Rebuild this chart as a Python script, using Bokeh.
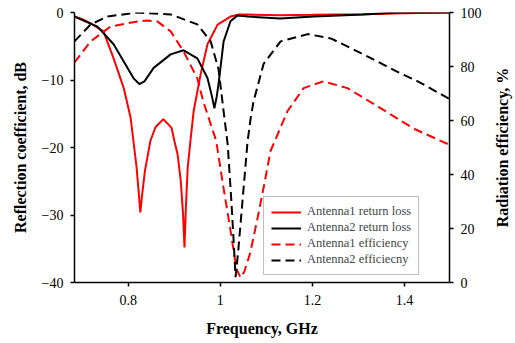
import math
from bokeh.plotting import figure
from bokeh.models import LinearAxis, Range1d, Legend, LegendItem, FixedTicker, Label
from bokeh.embed import file_html
from bokeh.resources import INLINE

# ---- data ----
f_rl1 = [0.683, 0.70, 0.72, 0.746, 0.768, 0.79, 0.805, 0.811, 0.818, 0.823, 0.826, 0.830, 0.836,
         0.848, 0.859, 0.876, 0.894, 0.900, 0.907, 0.914, 0.919, 0.922, 0.925, 0.929, 0.935, 0.942,
         0.957, 0.972, 0.994, 1.022, 1.04, 1.06, 1.13, 1.2, 1.31, 1.4, 1.498]
rl1 = [-0.6, -1.0, -1.7, -2.8, -6.8, -11.2, -15.6, -19.0, -23.0, -27.0, -29.6, -27.0, -23.5,
       -19.0, -17.0, -15.8, -17.1, -19.0, -21.0, -25.0, -30.0, -34.8, -29.0, -23.0, -19.0, -14.6,
       -9.2, -4.7, -1.8, -0.6, -0.3, -0.3, -0.4, -0.35, -0.25, -0.1, 0.0]

f_rl2 = [0.683, 0.733, 0.768, 0.798, 0.812, 0.824, 0.835, 0.855, 0.892, 0.92, 0.95, 0.972, 0.982,
         0.987, 0.992, 0.996, 1.007, 1.022, 1.037, 1.06, 1.13, 1.203, 1.311, 1.385, 1.498]
rl2 = [-0.6, -2.1, -4.7, -8.2, -9.8, -10.6, -10.2, -8.2, -6.2, -5.6, -6.8, -9.7, -12.5,
       -14.2, -12.5, -10.6, -4.3, -1.3, -0.45, -0.6, -0.9, -0.6, -0.3, 0.0, 0.0]

f_ef1 = [0.683, 0.718, 0.761, 0.82, 0.84, 0.863, 0.892, 0.92, 0.95, 0.963, 0.991, 1.005, 1.02,
         1.035, 1.044, 1.052, 1.065, 1.081, 1.095, 1.109, 1.146, 1.181, 1.224, 1.276, 1.348,
         1.42, 1.498]
ef1 = [81.5, 89.3, 94.8, 96.7, 97.0, 96.7, 93.0, 85.6, 75.6, 67.0, 52.4, 37.0, 21.5,
       5.0, 1.8, 4.0, 11.0, 24.0, 36.0, 48.7, 63.5, 72.0, 74.5, 72.0, 64.6,
       57.0, 51.0]

f_ef2 = [0.683, 0.718, 0.755, 0.82, 0.892, 0.95, 0.979, 0.996, 1.007, 1.016, 1.024, 1.029, 1.033,
         1.039, 1.048, 1.059, 1.066, 1.072, 1.094, 1.131, 1.19, 1.24, 1.311, 1.385, 1.429, 1.498]
ef2 = [89.3, 95.6, 98.5, 100.0, 99.3, 95.6, 89.3, 79.0, 63.5, 51.0, 30.0, 15.0, 2.0,
       12.0, 30.0, 52.0, 61.0, 67.0, 81.0, 89.3, 92.0, 90.4, 84.5, 78.0, 74.5, 68.0]

x_ticks = [0.8, 1.0, 1.2, 1.4]
y_ticks = [-40, -30, -20, -10, 0]
eff_ticks = [0, 20, 40, 60, 80, 100]
names = ["Antenna1 return loss", "Antenna2 return loss", "Antenna1 efficiency", "Antenna2 efficiecny"]
x_title = "Frequency, GHz"
y_title = "Reflection coefficient, dB"
y2_title = "Radiation efficiency, %"

FONT = "Liberation Serif"
X0, X1 = 0.683, 1.498

p = figure(width=515, height=343, output_backend="svg", toolbar_location=None,
           x_range=Range1d(X0, X1), y_range=Range1d(-40, 0),
           min_border_left=74, min_border_right=66, min_border_top=12, min_border_bottom=61)
p.extra_y_ranges = {"eff": Range1d(0, 100)}
p.outline_line_color = None
p.xgrid.visible = False
p.ygrid.visible = False

r1 = p.line(f_rl1, rl1, line_color="#ff0000", line_width=2)
r2 = p.line(f_rl2, rl2, line_color="#000000", line_width=2)
r3 = p.line(f_ef1, ef1, line_color="#ff0000", line_width=2, line_dash="9 5", y_range_name="eff")
r4 = p.line(f_ef2, ef2, line_color="#000000", line_width=2, line_dash="9 5", y_range_name="eff")

def style(ax):
    ax.axis_line_width = 1.5
    ax.axis_line_color = "black"
    ax.major_tick_line_width = 1.5
    ax.major_tick_in = 0
    ax.major_tick_out = 4
    ax.minor_tick_line_color = None
    ax.major_label_text_font = FONT
    ax.major_label_text_font_size = "14px"
    ax.major_label_text_color = "black"
    ax.axis_label_text_font = FONT
    ax.axis_label_text_font_size = "16px"
    ax.axis_label_text_font_style = "bold"
    ax.axis_label_text_color = "black"

xa = p.xaxis[0]
xa.ticker = FixedTicker(ticks=x_ticks)
xa.axis_label = x_title
style(xa)
xa.major_label_standoff = 8
xa.axis_label_standoff = 12

ya = p.yaxis[0]
ya.ticker = FixedTicker(ticks=y_ticks)
ya.axis_label = y_title
style(ya)
ya.major_label_standoff = 7
ya.axis_label_standoff = 10

# right axis: ticks and numbers
ra = LinearAxis(y_range_name="eff", ticker=FixedTicker(ticks=eff_ticks))
style(ra)
ra.major_label_standoff = 7
p.add_layout(ra, "right")

# right-hand title, reading bottom to top, placed in the right panel
rt = Label(x=X1 + 53.0 / 460.0, y=50, y_range_name="eff", text=y2_title, angle=math.pi / 2,
           text_font=FONT, text_font_size="16px", text_font_style="bold", text_color="black",
           text_align="center", text_baseline="middle")
p.add_layout(rt, "right")

legend = Legend(items=[LegendItem(label=names[0], renderers=[r1]),
                       LegendItem(label=names[1], renderers=[r2]),
                       LegendItem(label=names[2], renderers=[r3]),
                       LegendItem(label=names[3], renderers=[r4])],
                location=(189, 7), label_text_font=FONT, label_text_font_size="12.5px",
                glyph_width=30, glyph_height=14, label_height=14, spacing=1, padding=7,
                margin=0, label_standoff=6, border_line_color="#808080", border_line_width=1)
p.add_layout(legend, "center")

open("out.html", "w").write(file_html(p, INLINE))
